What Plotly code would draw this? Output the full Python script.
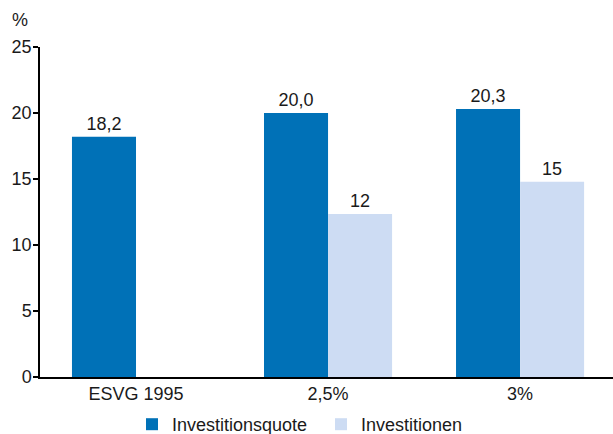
import plotly.graph_objects as go

categories = ["ESVG 1995", "2,5%", "3%"]
quote_values = [18.2, 20.0, 20.3]
quote_labels = ["18,2", "20,0", "20,3"]
inv_values = [None, 12.35, 14.8]
inv_labels = ["", "12", "15"]
y_ticks = [0, 5, 10, 15, 20, 25]

FONT = "Liberation Sans, Arial, Helvetica, sans-serif"
TXT = "#1a1a1a"

fig = go.Figure()
fig.add_trace(go.Bar(
    x=categories, y=quote_values, name="Investitionsquote",
    marker=dict(color="#0071b7", line=dict(width=0)),
    text=quote_labels, textposition="outside", cliponaxis=False,
    textfont=dict(size=18, color=TXT, family=FONT),
))
fig.add_trace(go.Bar(
    x=categories, y=inv_values, name="Investitionen",
    marker=dict(color="#cddcf3", line=dict(width=0)),
    text=inv_labels, textposition="outside", cliponaxis=False,
    textfont=dict(size=18, color=TXT, family=FONT),
))

fig.update_layout(
    width=613, height=434,
    margin=dict(l=40, r=0, t=47, b=57),
    paper_bgcolor="white", plot_bgcolor="white",
    barmode="group", bargap=0.333, bargroupgap=0,
    font=dict(family=FONT, size=18, color=TXT),
    showlegend=True,
    legend=dict(
        orientation="h", xref="container", yref="container",
        x=132 / 613, xanchor="left", y=28 / 434, yanchor="top",
        font=dict(size=18, color=TXT, family=FONT),
        entrywidth=144, itemwidth=30, tracegroupgap=0,
        bgcolor="rgba(0,0,0,0)",
    ),
    xaxis=dict(
        range=[-0.5, 2.484],
        showline=True, linecolor="black", linewidth=1.5,
        ticks="", showgrid=False,
        tickfont=dict(size=18, color=TXT, family=FONT),
    ),
    yaxis=dict(
        range=[0, 25], tickvals=y_ticks, showgrid=False, zeroline=False,
        showline=True, linecolor="black", linewidth=1.5,
        ticks="outside", ticklen=5, tickcolor="black", tickwidth=1.5,
        ticklabelstandoff=-2,
        tickfont=dict(size=18, color=TXT, family=FONT),
    ),
    annotations=[dict(
        text="%", xref="paper", yref="paper", x=-10 / 573, y=1.0,
        yshift=27, xanchor="right", yanchor="middle", showarrow=False,
        font=dict(size=18, color=TXT, family=FONT),
    )],
)

fig.write_html("out.html")
